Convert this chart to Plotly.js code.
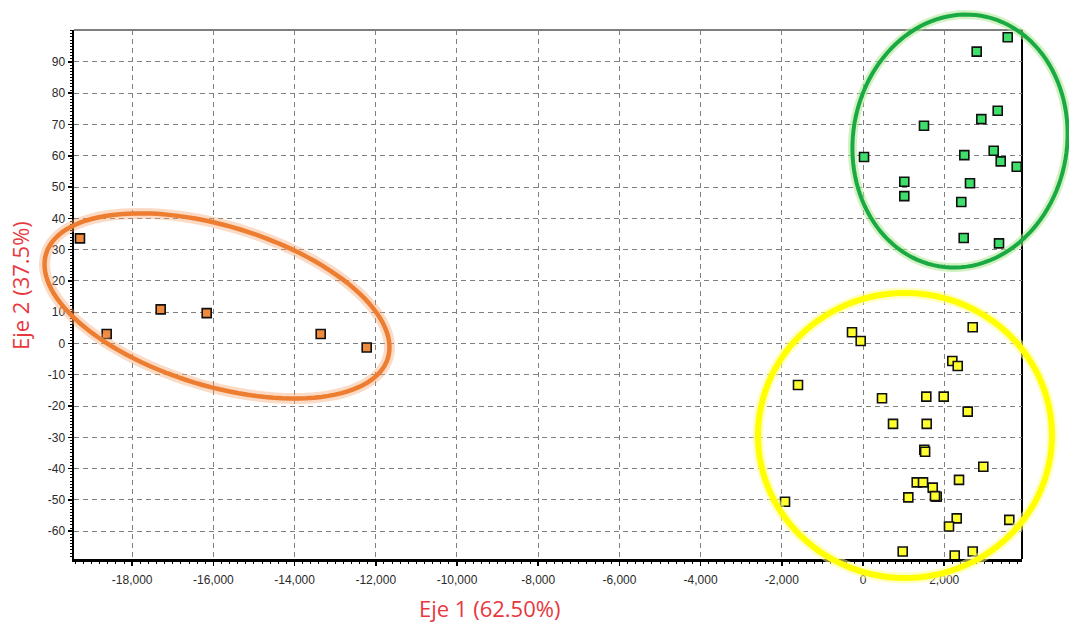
<!DOCTYPE html>
<html>
<head>
<meta charset="utf-8">
<script src="https://cdn.plot.ly/plotly-3.0.1.min.js"></script>
<style>html,body{margin:0;padding:0;background:#fff;}#chart{width:1069px;height:624px;}</style>
</head>
<body>
<div id="chart"></div>
<script>
// ---- data ----
const orangeX = [-19286, -18628, -17298, -16165, -13357, -12224];
const orangeY = [33.6, 3.0, 10.9, 9.7, 3.0, -1.3];

const greenX = [3564, 2800, 3318, 2914, 1502, 25, 2495, 3219, 3392, 3786, 1017, 2635, 1017, 2421, 2480, 3350];
const greenY = [97.9, 93.3, 74.4, 71.7, 69.6, 59.6, 60.2, 61.6, 58.2, 56.5, 51.7, 51.2, 47.1, 45.2, 33.7, 32.0];

const yellowX = [2702, -271, -57, 2200, 2333, -1601, 468, 1559, 1988, 2579, 739, 1569, 1510, 1530, 2963, 1323, 1478, 2365, 1717, 1815, 1773, 1116, -1921, 2308, 3603, 2118, 978, 2702, 2259];
const yellowY = [5.2, 3.6, 0.8, -5.6, -7.2, -13.3, -17.5, -17.0, -17.0, -21.8, -25.7, -25.7, -34.0, -34.6, -39.4, -44.4, -44.4, -43.6, -46.1, -49.0, -48.8, -49.2, -50.6, -55.9, -56.4, -58.5, -66.5, -66.5, -67.8];

const xTickVals = [-18000, -16000, -14000, -12000, -10000, -8000, -6000, -4000, -2000, 0, 2000];
const xTickLabels = ['-18,000', '-16,000', '-14,000', '-12,000', '-10,000', '-8,000', '-6,000', '-4,000', '-2,000', '0', '2,000'];
const yTickVals = [90, 80, 70, 60, 50, 40, 30, 20, 10, 0, -10, -20, -30, -40, -50, -60];
const yTickLabels = ['90', '80', '70', '60', '50', '40', '30', '20', '10', '0', '-10', '-20', '-30', '-40', '-50', '-60'];

const xTitle = 'Eje 1 (62.50%)';
const yTitle = 'Eje 2 (37.5%)';

// cluster ellipses: centre in data units
const ellCentersX = [-15911, 2389, 1034];
const ellCentersY = [12.0, 64.7, -29.4];

// ---- layout / styling ----
const xRange = [-19433, 3916];
const yRange = [-68.9, 100.2];
const M = {l: 74, r: 47, t: 30, b: 65};
const W = 1069 - M.l - M.r, H = 624 - M.t - M.b;

function ellipsePath(cx, cy, a, b, angDeg) {
  const px0 = (cx - xRange[0]) / (xRange[1] - xRange[0]) * W;
  const py0 = (cy - yRange[0]) / (yRange[1] - yRange[0]) * H;
  const th = angDeg * Math.PI / 180;
  let d = '';
  const n = 120;
  for (let i = 0; i <= n; i++) {
    const t = 2 * Math.PI * i / n;
    const u = a * Math.cos(t), v = b * Math.sin(t);
    const x = px0 + u * Math.cos(th) - v * Math.sin(th);
    const y = py0 + u * Math.sin(th) + v * Math.cos(th);
    d += (i === 0 ? 'M' : 'L') + (x / W).toFixed(5) + ',' + (y / H).toFixed(5);
  }
  return d + 'Z';
}

const ellStyle = [
  {a: 178.7, b: 79.9, ang: -17, col: '#ed7d31', halo: 'rgba(245,165,110,0.4)', w: 4.5, hw: 11},
  {a: 127, b: 107, ang: 80.4, col: '#1aaa44', halo: 'rgba(175,232,145,0.55)', w: 4, hw: 9},
  {a: 147, b: 142.5, ang: 0, col: '#ffff00', halo: 'rgba(255,255,150,0.55)', w: 6, hw: 11}
];

const shapes = [];
ellStyle.forEach((s, i) => {
  const p = ellipsePath(ellCentersX[i], ellCentersY[i], s.a, s.b, s.ang);
  shapes.push({type: 'path', xref: 'paper', yref: 'paper', path: p, layer: 'above', line: {color: s.halo, width: s.hw}});
  shapes.push({type: 'path', xref: 'paper', yref: 'paper', path: p, layer: 'above', line: {color: s.col, width: s.w}});
});
// top and right frame
shapes.push({type: 'line', xref: 'paper', yref: 'paper', x0: 0, x1: 1, y0: 1, y1: 1, layer: 'below', line: {color: '#555', width: 1.5}});
shapes.push({type: 'line', xref: 'paper', yref: 'paper', x0: 1, x1: 1, y0: 0, y1: 1, layer: 'below', line: {color: '#000', width: 2}});

function mk(x, y, color) {
  return {
    type: 'scatter', mode: 'markers', x: x, y: y, cliponaxis: false, hoverinfo: 'skip',
    marker: {symbol: 'square', size: 9, color: color, line: {color: '#111', width: 1.6}}
  };
}

const traces = [
  mk(orangeX, orangeY, '#f08a3c'),
  mk(greenX, greenY, '#3ee06b'),
  mk(yellowX, yellowY, '#ffff2e')
];

const tickFont = {family: 'Liberation Sans, Arial, sans-serif', size: 12, color: '#2a2a2a'};

const layout = {
  width: 1069, height: 624,
  margin: M,
  paper_bgcolor: '#fff', plot_bgcolor: '#fff',
  showlegend: false,
  xaxis: {
    range: xRange, tickmode: 'array', tickvals: xTickVals, ticktext: xTickLabels,
    showgrid: true, gridcolor: '#808080', gridwidth: 1, griddash: '5px,4px',
    zeroline: false, showline: true, linecolor: '#000', linewidth: 2.5,
    ticks: 'outside', ticklen: 4, tickcolor: '#000', tickwidth: 1.5,
    ticklabelstandoff: 4,
    minor: {tickmode: 'linear', tick0: 0, dtick: 200, ticks: 'outside', ticklen: 2, tickcolor: '#000', tickwidth: 1, showgrid: false},
    tickfont: tickFont, fixedrange: true
  },
  yaxis: {
    range: yRange, tickmode: 'array', tickvals: yTickVals, ticktext: yTickLabels,
    showgrid: true, gridcolor: '#808080', gridwidth: 1, griddash: '5px,4px',
    zeroline: false, showline: true, linecolor: '#000', linewidth: 2.5,
    ticks: 'outside', ticklen: 4, tickcolor: '#000', tickwidth: 1.5,
    minor: {tickmode: 'linear', tick0: 0, dtick: 1, ticks: 'outside', ticklen: 2, tickcolor: '#000', tickwidth: 1, showgrid: false},
    tickfont: tickFont, fixedrange: true
  },
  shapes: shapes,
  annotations: [
    {text: xTitle, xref: 'paper', yref: 'paper', x: (489 - M.l) / W, y: -(608 - (M.t + H)) / H,
     xanchor: 'center', yanchor: 'middle', showarrow: false,
     font: {family: 'Open Sans, sans-serif', size: 22, color: '#e8383d'}},
    {text: yTitle, xref: 'paper', yref: 'paper', x: -(M.l - 20) / W, y: (M.t + H - 286) / H,
     xanchor: 'center', yanchor: 'middle', showarrow: false, textangle: -90,
     font: {family: 'Open Sans, sans-serif', size: 22, color: '#e8383d'}}
  ]
};

Plotly.newPlot('chart', traces, layout, {displayModeBar: false, staticPlot: true});
</script>
</body>
</html>
